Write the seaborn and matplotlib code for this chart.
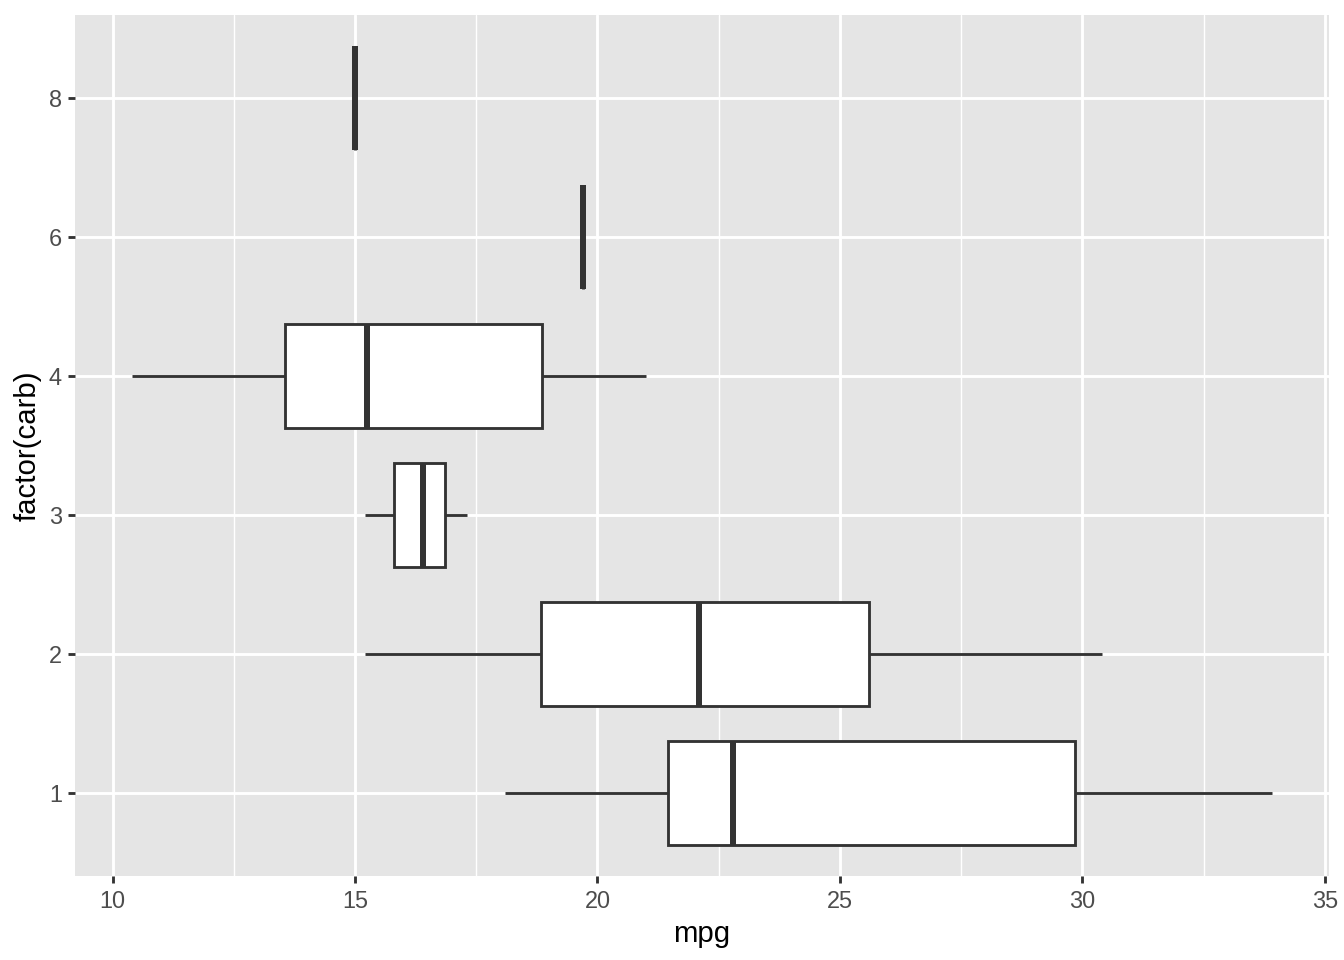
import pandas as pd
import matplotlib.pyplot as plt
import seaborn as sns

# mtcars mpg grouped by number of carburetors
carb1 = [22.8, 21.4, 18.1, 32.4, 33.9, 21.5, 27.3]
carb2 = [18.7, 24.4, 22.8, 19.2, 30.4, 15.5, 15.2, 26.0, 30.4, 21.4]
carb3 = [16.4, 17.3, 15.2]
carb4 = [21.0, 21.0, 14.3, 19.2, 17.8, 10.4, 10.4, 14.7, 13.3, 15.8]
carb6 = [19.7]
carb8 = [15.0]

groups = {'1': carb1, '2': carb2, '3': carb3, '4': carb4, '6': carb6, '8': carb8}
order = ['8', '6', '4', '3', '2', '1']  # top to bottom
x_ticks = [10, 15, 20, 25, 30, 35]

rows = [(k, v) for k, vals in groups.items() for v in vals]
df = pd.DataFrame(rows, columns=['carb', 'mpg'])

sns.set_style("white")
plt.rcParams['font.family'] = ['Liberation Sans', 'DejaVu Sans']

fig = plt.figure(figsize=(7, 5), dpi=192)
ax = fig.add_axes([75 / 1344, 1 - 876.4 / 960, (1328.5 - 75) / 1344, (876.4 - 14.6) / 960])
ax.set_facecolor('#E5E5E5')

line_c = '#333333'
lw = 1.07
sns.boxplot(data=df, x='mpg', y='carb', order=order, orient='h', ax=ax,
            width=0.75, whis=1.5, showcaps=False, fliersize=0,
            boxprops=dict(facecolor='white', edgecolor=line_c, linewidth=lw),
            whiskerprops=dict(color=line_c, linewidth=lw),
            medianprops=dict(color=line_c, linewidth=lw * 2.1, solid_capstyle='butt'),
            capprops=dict(color=line_c, linewidth=lw))

ax.set_xlim(9.225, 35.075)
ax.set_ylim(5.6, -0.6)
ax.set_xticks(x_ticks)
ax.set_xticks([12.5, 17.5, 22.5, 27.5, 32.5], minor=True)
ax.grid(True, which='major', color='white', linewidth=lw)
ax.grid(True, which='minor', axis='x', color='white', linewidth=lw / 2)
ax.set_axisbelow(True)
for s in ax.spines.values():
    s.set_visible(False)

ax.tick_params(axis='both', which='major', length=2.75, width=lw, color=line_c,
               labelsize=8.8, labelcolor='#4D4D4D', pad=2.2, bottom=True, left=True)
ax.tick_params(axis='x', which='minor', length=0)
ax.set_xlabel('mpg', fontsize=11, color='black', labelpad=2.75)
ax.set_ylabel('factor(carb)', fontsize=11, color='black', labelpad=2.75)

fig.savefig('out.png', dpi=192)
